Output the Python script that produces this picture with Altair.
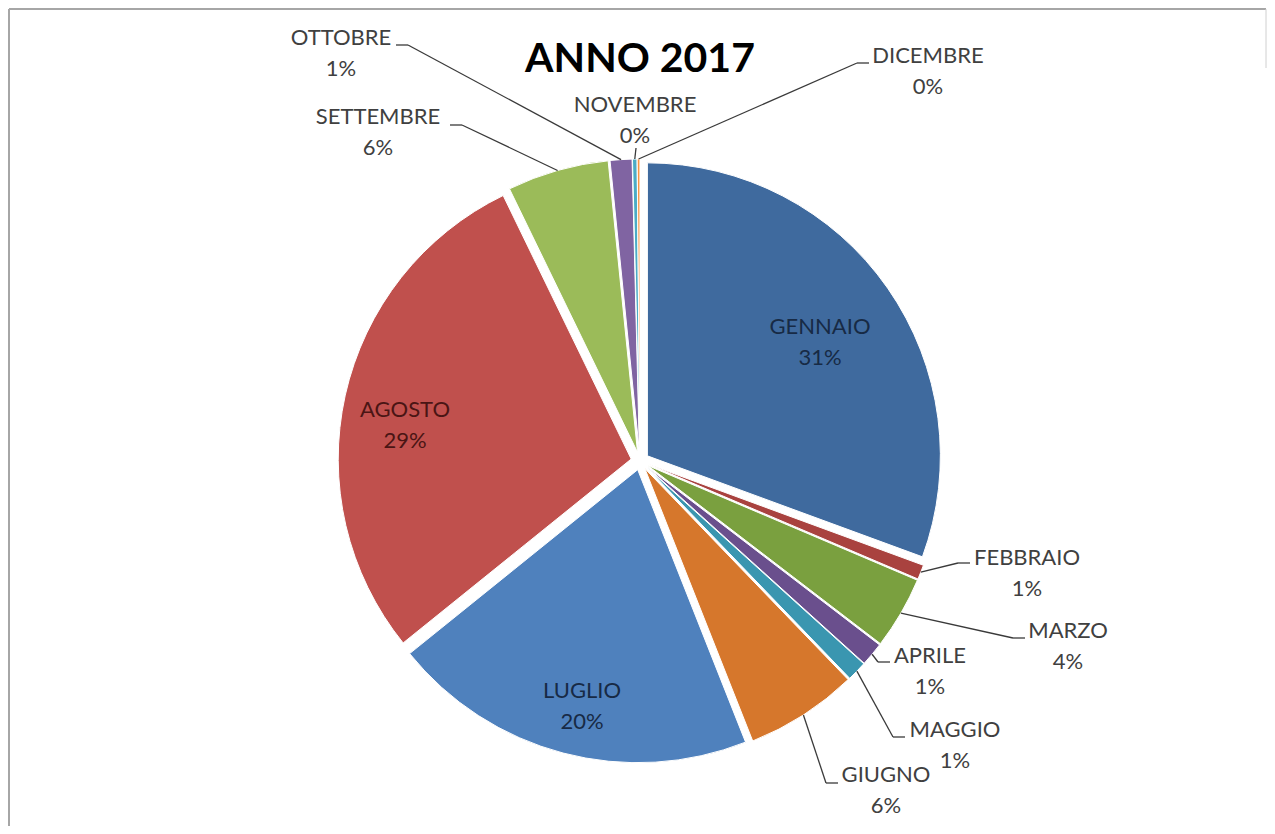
import math
import altair as alt
import pandas as pd

# ---------------- data ----------------
titolo = "ANNO 2017"
mesi = ["GENNAIO", "FEBBRAIO", "MARZO", "APRILE", "MAGGIO", "GIUGNO",
        "LUGLIO", "AGOSTO", "SETTEMBRE", "OTTOBRE", "NOVEMBRE", "DICEMBRE"]
valori = [30.6, 0.8, 4.0, 1.3, 1.1, 6.2, 20.2, 28.6, 5.6, 1.2, 0.25, 0.15]

# ---------------- styles ----------------
colori_fette = ["#3F6A9E", "#A9423F", "#7AA03F", "#6A4F8D", "#3A96B0", "#D6772C",
                "#4F81BD", "#C0504D", "#9BBB59", "#8064A2", "#4BACC6", "#F79646"]
colori_testo = ["#172a45", "#404040", "#404040", "#404040", "#404040", "#404040",
                "#172a45", "#4A1514", "#404040", "#404040", "#404040", "#404040"]

# ---------------- layout (pixels, relative to pie centre) ----------------
W, H = 1259, 818
CX, CY = 632, 453      # pie centre
R = 293                # pie radius
D = 9                  # explosion distance
FS, LH = 22, 31        # label font size / line height
esterna = [False, True, True, True, True, True, False, False, True, True, True, True]
etich_dx = [180, 387, 428, 290, 315, 246, -58, -235, -262, -299, -5, 288]
etich_dy = [-119, 112, 185, 210, 284, 329, 245, -36, -329, -408, -341, -390]
gomito_dx = [0, 318, 373, 238, 253, 186, 0, 0, -178, -232, -4, 217]
gomito_dy = [0, 102, 177, 201, 276, 322, 0, 0, -336, -416, -313, -398]
trattino = [0, 1, 1, 1, 1, 1, 0, 0, -1, -1, 0, 1]

df = pd.DataFrame({
    "idx": list(range(len(mesi))),
    "mese": mesi,
    "valore": valori,
    "colore": colori_fette,
    "col_testo": colori_testo,
    "esterna": esterna,
    "ldx": etich_dx, "ldy": etich_dy,
    "edx": gomito_dx, "edy": gomito_dy,
    "tick": trattino,
})

totale = sum(valori)

base = (
    alt.Chart(df)
    .transform_joinaggregate(totale="sum(valore)")
    .transform_window(fine="sum(valore)", sort=[alt.SortField("idx")], frame=[None, 0])
    .transform_calculate(inizio="datum.fine - datum.valore")
    .transform_calculate(medio="(datum.inizio + datum.fine) / datum.totale * PI")
    .transform_calculate(
        ax=f"{CX} + {D} * sin(datum.medio)",
        ay=f"{CY} - {D} * cos(datum.medio)",
        sx=f"{CX} + {R + D} * sin(datum.medio)",
        sy=f"{CY} - {R + D} * cos(datum.medio)",
        lx=f"{CX} + datum.ldx",
        ly=f"{CY} + datum.ldy - {LH / 2}",
        ex=f"{CX} + datum.edx",
        ey=f"{CY} + datum.edy",
        tx=f"{CX} + datum.edx + datum.tick * 12",
        etichetta="datum.mese + '\\n' + format(datum.valore / datum.totale, '.0%')",
    )
)

fette = base.mark_arc(outerRadius=R, stroke="white", strokeWidth=1).encode(
    theta=alt.Theta("inizio:Q", scale=alt.Scale(domain=[0, totale], range=[0, 2 * math.pi])),
    theta2="fine:Q",
    x=alt.X("ax:Q", scale=None),
    y=alt.Y("ay:Q", scale=None),
    color=alt.Color("colore:N", scale=None),
)

linee = base.transform_filter("datum.esterna").mark_rule(color="#3a3a3a", strokeWidth=1.3).encode(
    x=alt.X("sx:Q", scale=None), y=alt.Y("sy:Q", scale=None),
    x2="ex:Q", y2="ey:Q",
)

trattini = base.transform_filter("datum.esterna && datum.tick != 0").mark_rule(
    color="#3a3a3a", strokeWidth=1.3
).encode(
    x=alt.X("ex:Q", scale=None), y=alt.Y("ey:Q", scale=None),
    x2="tx:Q", y2="ey:Q",
)

testi = base.mark_text(
    lineBreak="\n", font="Lato", fontSize=FS, lineHeight=LH,
    align="center", baseline="middle",
).encode(
    x=alt.X("lx:Q", scale=None), y=alt.Y("ly:Q", scale=None),
    text="etichetta:N",
    color=alt.Color("col_testo:N", scale=None),
)

tit = alt.Chart(pd.DataFrame({"t": [titolo]})).mark_text(
    font="Lato", fontWeight="bold", fontSize=41, color="#000000",
    align="center", baseline="alphabetic",
).encode(x=alt.value(CX), y=alt.value(64), text="t:N")

cornice_df = pd.DataFrame({"a": [0]})
bordo_su = alt.Chart(cornice_df).mark_rule(color="#a6a6a6", strokeWidth=2).encode(
    x=alt.value(1), x2=alt.value(W - 1), y=alt.value(1))
bordo_sx = alt.Chart(cornice_df).mark_rule(color="#a6a6a6", strokeWidth=2).encode(
    x=alt.value(1), y=alt.value(1), y2=alt.value(H))
bordo_dx = alt.Chart(cornice_df).mark_rule(color="#d0d0d0", strokeWidth=1).encode(
    x=alt.value(W - 1), y=alt.value(1), y2=alt.value(60))

chart = (
    alt.layer(fette, linee, trattini, testi, tit, bordo_su, bordo_sx, bordo_dx)
    .properties(width=W, height=H, autosize=alt.AutoSizeParams(type="none"), padding=0,
                background="white")
    .configure_view(stroke=None)
)

chart.save("out.html", embed_options={"renderer": "svg", "actions": False})
